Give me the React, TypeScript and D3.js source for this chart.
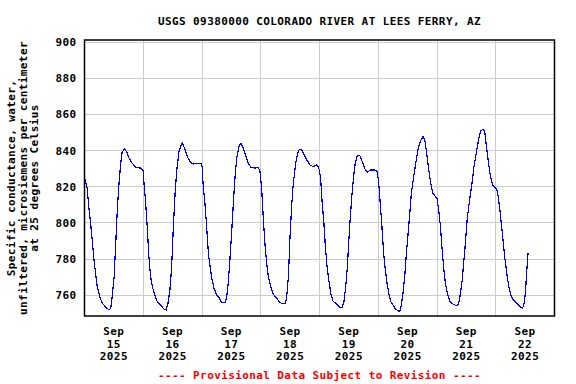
import * as d3 from 'd3';

// chart text
const TITLE = 'USGS 09380000 COLORADO RIVER AT LEES FERRY, AZ';
const FOOTER = '---- Provisional Data Subject to Revision ----';
const Y_TITLE = [
  'Specific conductance, water,',
  'unfiltered, microsiemens per centimeter',
  'at 25 degrees Celsius',
];
const Y_TICKS = [760, 780, 800, 820, 840, 860, 880, 900];
const MONTH = 'Sep';
const YEAR = '2025';
const DAY_LABELS = ['15', '16', '17', '18', '19', '20', '21', '22'];

// readings: hours after Sep 15 00:00, conductance (uS/cm)
const HOURS = [
  0.2, 1.1, 1.8, 2.5, 3.2, 3.9, 4.6, 5.2, 6.2, 7.3, 8.7, 10.0, 10.7, 11.4, 12.1, 12.7,
  13.4, 14.1, 14.8, 15.4, 16.4, 17.2, 18.2, 19.5, 20.9, 23.0, 23.9,
  24.3, 25.0, 25.7, 26.3, 27.0, 27.7, 28.7, 29.7, 31.1, 32.5, 33.4, 34.1, 34.9, 35.6,
  36.3, 37.0, 37.7, 38.6, 39.3, 40.0, 40.9, 42.0, 43.1, 44.4, 46.1, 47.5, 48.1,
  48.5, 49.2, 49.9, 50.6, 51.3, 52.0, 52.9, 54.0, 55.1, 56.1, 57.4, 58.1, 58.7, 59.4,
  60.1, 60.8, 61.5, 62.2, 63.1, 63.9, 64.9, 66.0, 66.9, 67.9, 69.6, 71.0, 71.7,
  72.4, 73.0, 73.7, 74.4, 75.1, 76.1, 77.1, 78.5, 79.9, 81.2, 82.0, 82.6, 83.3, 83.9,
  84.6, 85.3, 86.3, 87.1, 87.8, 88.7, 89.7, 90.8, 92.1, 93.5, 94.9, 95.5,
  96.0, 96.5, 97.0, 97.8, 98.4, 99.1, 99.8, 100.6, 101.5, 102.9, 104.3, 105.2, 106.0,
  106.7, 107.4, 107.9, 108.6, 109.3, 110.0, 110.6, 111.4, 112.5, 113.5, 114.4, 115.5,
  116.9, 118.5, 119.6,
  120.2, 120.8, 121.5, 122.2, 122.9, 123.6, 124.3, 125.1, 126.0, 127.0, 128.1, 128.8,
  129.4, 130.1, 130.8, 131.5, 132.2, 132.9, 133.5, 134.5, 135.3, 136.2, 137.2, 138.3,
  139.0, 139.6, 140.3, 141.0, 141.7, 142.4, 143.3,
  144.0, 144.7, 145.4, 146.0, 146.7, 147.4, 148.4, 149.3, 150.7, 152.1, 152.9, 153.6,
  154.3, 155.0, 155.7, 156.3, 157.3, 158.3, 159.1, 159.8, 160.5, 161.2, 161.9, 162.9,
  163.5, 164.2, 164.9, 165.6, 166.3, 167.0, 167.6,
  168.3, 169.0, 169.7, 170.4, 171.1, 171.8, 172.5, 173.2, 174.1, 175.2, 176.6, 177.9,
  179.0, 179.6, 180.1, 180.7, 181.2,
];
const COND = [
  824.2, 819.2, 808.1, 799.8, 789.7, 779.5, 771.2, 764.8, 759.2, 755.6, 753.4, 751.9, 752.8, 760.2, 770.3, 786.9,
  807.2, 822.0, 833.0, 839.4, 840.8, 839.4, 835.8, 833.0, 830.8, 830.3, 829.3,
  822.0, 810.9, 796.1, 781.4, 770.3, 764.8, 760.2, 756.5, 754.6, 752.3, 751.9, 755.6, 762.9, 775.8,
  798.0, 816.4, 829.3, 839.4, 842.6, 844.1, 841.3, 836.7, 833.9, 832.5, 833.0, 833.0, 831.1,
  820.1, 810.9, 798.0, 783.2, 775.8, 769.4, 763.9, 760.2, 758.3, 755.9, 755.9, 759.2, 766.6, 779.5,
  794.3, 810.9, 825.6, 835.8, 842.2, 844.1, 841.3, 836.7, 833.0, 830.8, 830.3, 830.8, 828.4,
  818.3, 803.5, 788.8, 777.7, 770.3, 764.8, 760.7, 758.3, 755.9, 755.2, 755.2, 759.2, 770.3, 790.6,
  809.0, 822.0, 833.0, 838.6, 840.8, 840.4, 837.6, 834.9, 832.1, 831.1, 832.1, 831.1,
  829.0, 823.8, 812.7, 799.8, 786.9, 775.8, 768.5, 761.1, 756.8, 755.2, 753.1, 753.1, 756.5,
  764.8, 775.8, 788.8, 803.5, 816.4, 826.6, 833.0, 837.1, 837.1, 833.9, 830.3, 828.1,
  829.3, 829.3, 828.4,
  822.0, 810.9, 798.0, 783.2, 774.0, 766.6, 761.1, 756.5, 754.6, 752.3, 751.5, 750.9,
  754.6, 761.1, 770.3, 783.2, 794.3, 805.4, 816.4, 825.6, 833.0, 840.4, 845.4, 847.7,
  845.9, 840.4, 833.0, 825.6, 820.1, 816.4, 814.6,
  813.5, 807.2, 798.0, 786.9, 775.8, 766.6, 760.2, 756.5, 755.0, 754.1, 755.6, 761.1,
  768.5, 779.5, 790.6, 801.7, 812.7, 822.0, 831.1, 836.7, 842.2, 847.7, 851.1, 851.8,
  850.5, 842.2, 834.9, 827.5, 822.9, 820.5, 819.5,
  819.2, 814.6, 807.2, 798.0, 788.8, 779.5, 772.2, 765.7, 760.2, 757.4, 755.6, 753.7,
  752.8, 755.6, 761.1, 774.0, 783.2,
];

const WIDTH = 576;
const HEIGHT = 384;
const MARGIN = { TOP: 40, BOTTOM: 68, LEFT: 84.5, RIGHT: 21.5 };
const FONT = '"DejaVu Sans Mono", "Liberation Mono", monospace';
const COLOR = { LINE: '#0000ff', GRID: '#cccccc', TEXT: '#000000', NOTE: '#ff0000' };

const START = new Date(2025, 8, 15);
const END = new Date(2025, 8, 23);

const textStyle = {
  fontFamily: FONT,
  fontSize: 11,
  fontWeight: 'bold' as const,
  letterSpacing: 0.4,
};

export default function App() {
  const x = d3.scaleTime().domain([START, END]).range([MARGIN.LEFT, WIDTH - MARGIN.RIGHT]);
  const y = d3.scaleLinear().domain([748.5, 901.2]).range([HEIGHT - MARGIN.BOTTOM, MARGIN.TOP]);

  const data = HOURS.map((h, i) => ({ date: new Date(START.getTime() + h * 3600e3), v: COND[i] }));
  const line = d3
    .line<{ date: Date; v: number }>()
    .x((d) => x(d.date))
    .y((d) => y(d.v));

  const days = d3.timeDay.range(START, END);
  const [left, right] = x.range();
  const [plotBottom, plotTop] = y.range();
  const midX = (left + right) / 2;
  const plotMid = (plotTop + plotBottom) / 2;

  return (
    <svg
      width={WIDTH}
      height={HEIGHT}
      style={{ position: 'absolute', left: 0, top: 0, background: '#fff' }}
    >
      <text x={midX} y={24.5} textAnchor="middle" fill={COLOR.TEXT} style={textStyle}>
        {TITLE}
      </text>

      {/* grid */}
      <g stroke={COLOR.GRID} strokeWidth={1} shapeRendering="crispEdges">
        {Y_TICKS.map((t) => (
          <line key={t} x1={left} x2={right} y1={y(t)} y2={y(t)} />
        ))}
        {days.slice(1).map((d) => (
          <line key={+d} x1={x(d)} x2={x(d)} y1={plotTop} y2={plotBottom} />
        ))}
      </g>

      <path
        d={line(data) ?? ''}
        fill="none"
        stroke={COLOR.LINE}
        strokeWidth={1.2}
        shapeRendering="crispEdges"
      />

      <rect
        x={left}
        y={plotTop}
        width={right - left}
        height={plotBottom - plotTop}
        fill="none"
        stroke="#000"
        strokeWidth={1.5}
      />

      {/* y ticks */}
      {Y_TICKS.map((t) => (
        <text key={t} x={76.5} y={y(t)} dy="0.36em" textAnchor="end" fill={COLOR.TEXT} style={textStyle}>
          {t}
        </text>
      ))}

      {/* x ticks, centred on noon */}
      {days.map((d, i) => {
        const cx = x(d3.timeHour.offset(d, 12));
        return (
          <text key={+d} x={cx} y={335} textAnchor="middle" fill={COLOR.TEXT} style={textStyle}>
            <tspan x={cx}>{MONTH}</tspan>
            <tspan x={cx} dy={12.6}>{DAY_LABELS[i]}</tspan>
            <tspan x={cx} dy={12.6}>{YEAR}</tspan>
          </text>
        );
      })}

      {/* y title */}
      {Y_TITLE.map((s, i) => (
        <text
          key={s}
          transform={`translate(${14.7 + i * 11.8}, ${plotMid}) rotate(-90)`}
          textAnchor="middle"
          fill={COLOR.TEXT}
          style={textStyle}
        >
          {s}
        </text>
      ))}

      <text x={midX} y={379} textAnchor="middle" fill={COLOR.NOTE} style={textStyle}>
        {FOOTER}
      </text>
    </svg>
  );
}
